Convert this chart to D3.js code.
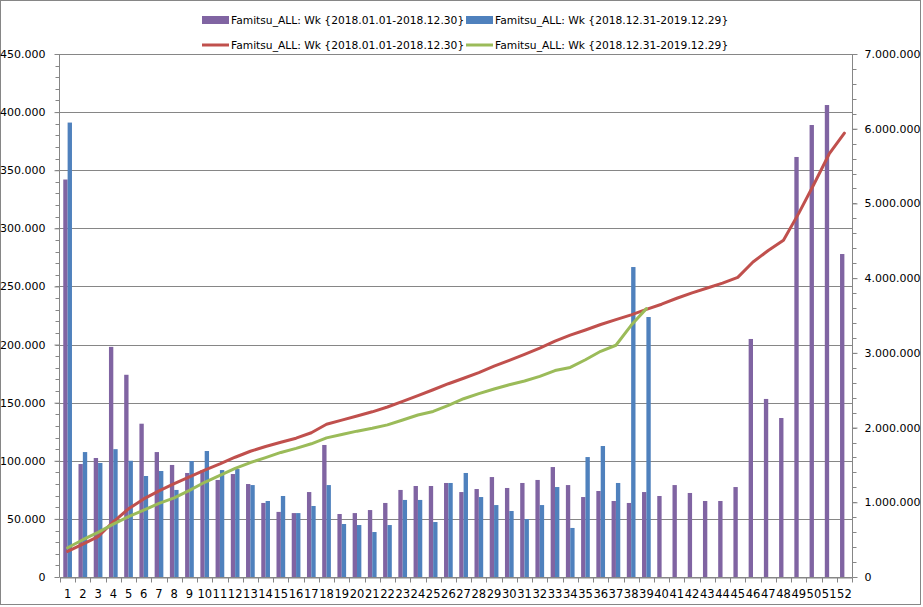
<!DOCTYPE html>
<html>
<head>
<meta charset="utf-8">
<script src="https://cdn.jsdelivr.net/npm/d3@7"></script>
<style>
  html, body { margin: 0; padding: 0; background: #fff; }
  svg { display: block; font-family: "DejaVu Sans", Verdana, sans-serif; }
</style>
</head>
<body>
<svg id="chart" width="923" height="607"></svg>
<script>
// ---- data ----
const weeks = ["1","2","3","4","5","6","7","8","9","10","11","12","13","14","15","16","17","18","19","20","21","22","23","24","25","26","27","28","29","30","31","32","33","34","35","36","37","38","39","40","41","42","43","44","45","46","47","48","49","50","51","52"];
const seriesNames = ["Famitsu_ALL: Wk {2018.01.01-2018.12.30}", "Famitsu_ALL: Wk {2018.12.31-2019.12.29}"];
const weekly2018 = [342000, 97200, 102400, 198000, 174000, 131900, 107500, 96400, 89500, 92000, 83500, 88600, 80000, 63700, 56000, 55000, 73100, 113600, 54200, 55000, 57600, 63700, 74900, 78300, 78300, 80900, 73100, 75700, 86000, 76600, 80900, 83500, 94600, 79100, 68800, 74000, 65400, 63700, 73100, 69700, 79100, 72300, 65400, 65400, 77400, 204800, 153200, 136800, 361400, 388900, 406100, 277900];
const weekly2019 = [391000, 107500, 98100, 110000, 100000, 86900, 91200, 74900, 99800, 108400, 92000, 92900, 79100, 65400, 69700, 55000, 61100, 79100, 45600, 44700, 38700, 44700, 66300, 66300, 47300, 80900, 89500, 68800, 61900, 56800, 49900, 61900, 77400, 42200, 103200, 112700, 80900, 266700, 223700];
const total2018 = [342000, 439000, 541000, 739000, 913000, 1045000, 1153000, 1249000, 1339000, 1431000, 1514000, 1603000, 1683000, 1747000, 1803000, 1858000, 1931000, 2044000, 2099000, 2154000, 2211000, 2275000, 2350000, 2428000, 2506000, 2587000, 2660000, 2736000, 2822000, 2899000, 2980000, 3063000, 3158000, 3237000, 3306000, 3380000, 3445000, 3509000, 3582000, 3651000, 3731000, 3803000, 3868000, 3934000, 4011000, 4216000, 4369000, 4506000, 4867000, 5256000, 5662000, 5940000];
const total2019 = [391000, 499000, 597000, 707000, 807000, 894000, 985000, 1060000, 1159000, 1268000, 1360000, 1453000, 1532000, 1597000, 1667000, 1722000, 1783000, 1862000, 1908000, 1952000, 1991000, 2036000, 2102000, 2168000, 2216000, 2297000, 2386000, 2455000, 2517000, 2574000, 2624000, 2685000, 2763000, 2805000, 2908000, 3021000, 3102000, 3369000, 3592000];
const leftTicks = [0, 50000, 100000, 150000, 200000, 250000, 300000, 350000, 400000, 450000];
const rightTicks = [0, 1000000, 2000000, 3000000, 4000000, 5000000, 6000000, 7000000];

// ---- styles ----
const C = { purple: "#8064A2", blue: "#4F81BD", red: "#C0504D", green: "#9BBB59", grid: "#868686", axis: "#868686", text: "#000" };
const M = { left: 60, right: 852, top: 54, bottom: 577 };

const svg = d3.select("#chart");
const loc = d3.formatLocale({ decimal: ",", thousands: ".", grouping: [3], currency: ["", ""] });
const fmt = loc.format(",.0f");

// outer border
svg.append("rect").attr("x", 0.5).attr("y", 0.5).attr("width", 920).attr("height", 604)
  .attr("fill", "#fff").attr("stroke", "#868686");

const x0 = d3.scaleBand().domain(weeks).range([M.left, M.right]).padding(0);
const x1 = d3.scaleBand().domain([0, 1]).range([0, x0.bandwidth()]).paddingInner(0).paddingOuter(0.75);
const yL = d3.scaleLinear().domain([0, 450000]).range([M.bottom, M.top]);
const yR = d3.scaleLinear().domain([0, 7000000]).range([M.bottom, M.top]);

// gridlines
svg.append("g").selectAll("line").data(leftTicks).join("line")
  .attr("x1", M.left).attr("x2", M.right)
  .attr("y1", d => Math.round(yL(d)) + 0.5).attr("y2", d => Math.round(yL(d)) + 0.5)
  .attr("stroke", C.grid).attr("stroke-width", 1);

// bars
const bars = svg.append("g");
bars.selectAll("rect.s18").data(weekly2018).join("rect").attr("class", "s18")
  .attr("x", (d, i) => x0(weeks[i]) + x1(0)).attr("width", x1.bandwidth())
  .attr("y", d => yL(d)).attr("height", d => yL(0) - yL(d)).attr("fill", C.purple);
bars.selectAll("rect.s19").data(weekly2019).join("rect").attr("class", "s19")
  .attr("x", (d, i) => x0(weeks[i]) + x1(1)).attr("width", x1.bandwidth())
  .attr("y", d => yL(d)).attr("height", d => yL(0) - yL(d)).attr("fill", C.blue);

// lines
const line = d3.line().x((d, i) => x0(weeks[i]) + x0.bandwidth() / 2).y(d => yR(d));
svg.append("path").datum(total2018).attr("d", line).attr("fill", "none")
  .attr("stroke", C.red).attr("stroke-width", 3).attr("stroke-linejoin", "round").attr("stroke-linecap", "round");
svg.append("path").datum(total2019).attr("d", line).attr("fill", "none")
  .attr("stroke", C.green).attr("stroke-width", 3).attr("stroke-linejoin", "round").attr("stroke-linecap", "round");

// left axis
const leftMinor = d3.range(0, 450001, 10000);
const gL = svg.append("g").attr("transform", `translate(${M.left - 0.5},0)`);
const axL = d3.axisLeft(yL).tickValues(leftTicks).tickFormat(fmt).tickSize(5).tickPadding(9);
gL.call(axL);
gL.append("g").selectAll("line").data(leftMinor).join("line")
  .attr("x1", -4).attr("x2", 0).attr("y1", d => Math.round(yL(d)) + 0.5).attr("y2", d => Math.round(yL(d)) + 0.5)
  .attr("stroke", C.axis);

// right axis
const rightMinor = d3.range(0, 7000001, 200000);
const gR = svg.append("g").attr("transform", `translate(${M.right + 0.5},0)`);
const axR = d3.axisRight(yR).tickValues(rightTicks).tickFormat(fmt).tickSize(5).tickPadding(7);
gR.call(axR);
gR.append("g").selectAll("line").data(rightMinor).join("line")
  .attr("x1", 0).attr("x2", 4).attr("y1", d => Math.round(yR(d)) + 0.5).attr("y2", d => Math.round(yR(d)) + 0.5)
  .attr("stroke", C.axis);

// bottom axis
const gB = svg.append("g").attr("transform", `translate(0,${M.bottom + 0.5})`);
const axB = d3.axisBottom(x0).tickSize(0).tickPadding(12);
gB.call(axB);
gB.append("g").selectAll("line").data(weeks.concat(["end"])).join("line")
  .attr("x1", (d, i) => Math.round(M.left + i * x0.step()) + 0.5)
  .attr("x2", (d, i) => Math.round(M.left + i * x0.step()) + 0.5)
  .attr("y1", 0).attr("y2", 5).attr("stroke", C.axis);

[gL, gR, gB].forEach(g => {
  g.select(".domain").attr("stroke", C.axis).attr("stroke-width", 1);
  g.selectAll(".tick line").attr("stroke", C.axis);
  g.selectAll("text").attr("fill", C.text).style("font-family", "'DejaVu Sans', Verdana, sans-serif");
});
gL.selectAll("text").style("font-size", "11px");
gR.selectAll("text").style("font-size", "11px");
gB.selectAll("text").style("font-size", "11.5px");
gL.select(".domain").attr("d", `M0,${M.top}V${M.bottom}`);
gR.select(".domain").attr("d", `M0,${M.top}V${M.bottom}`);

// legend
const legend = svg.append("g").style("font-size", "10.7px").attr("fill", C.text);
const items = [
  { type: "bar", color: C.purple, name: seriesNames[0], x: 202, y: 20 },
  { type: "bar", color: C.blue, name: seriesNames[1], x: 466, y: 20 },
  { type: "line", color: C.red, name: seriesNames[0], x: 202, y: 45 },
  { type: "line", color: C.green, name: seriesNames[1], x: 466, y: 45 }
];
items.forEach(it => {
  if (it.type === "bar") {
    legend.append("rect").attr("x", it.x).attr("y", it.y - 4).attr("width", 27).attr("height", 8).attr("fill", it.color);
  } else {
    legend.append("line").attr("x1", it.x).attr("x2", it.x + 27).attr("y1", it.y).attr("y2", it.y)
      .attr("stroke", it.color).attr("stroke-width", 3);
  }
  legend.append("text").attr("x", it.x + 29).attr("y", it.y).attr("dy", "0.35em").text(it.name);
});
</script>
</body>
</html>
